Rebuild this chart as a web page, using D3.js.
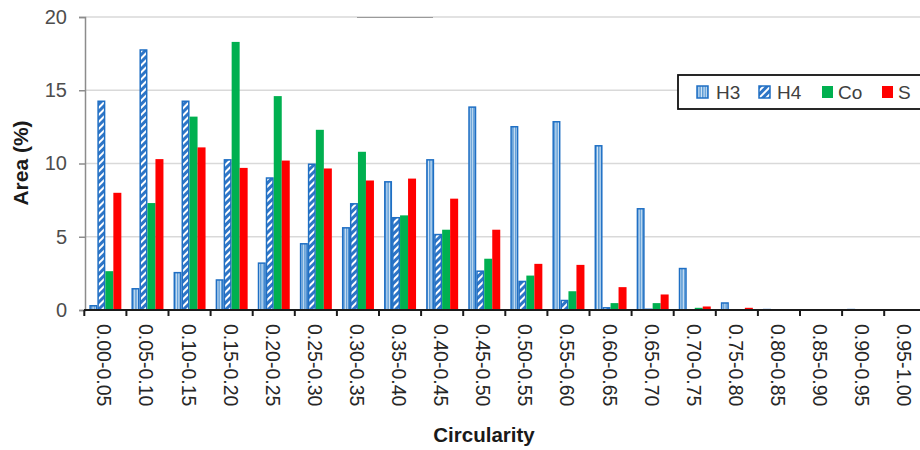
<!DOCTYPE html>
<html><head><meta charset="utf-8">
<script src="https://cdn.jsdelivr.net/npm/d3@7"></script>
<style>body{margin:0;background:#fff}svg{display:block}</style>
</head><body>
<svg id="c" width="920" height="450"></svg>
<script>
const categories = ["0.00-0.05","0.05-0.10","0.10-0.15","0.15-0.20","0.20-0.25","0.25-0.30","0.30-0.35","0.35-0.40","0.40-0.45","0.45-0.50","0.50-0.55","0.55-0.60","0.60-0.65","0.65-0.70","0.70-0.75","0.75-0.80","0.80-0.85","0.85-0.90","0.90-0.95","0.95-1.00"];
const seriesNames = ["H3","H4","Co","S"];
const H3 = [0.34,1.5,2.6,2.1,3.25,4.57,5.66,8.8,10.3,13.9,12.56,12.9,11.26,6.96,2.88,0.53,0.08,0.06,0.08,0];
const H4 = [14.3,17.8,14.3,10.3,9.06,10.0,7.3,6.35,5.2,2.7,2.0,0.7,0.2,0.1,0.05,0.05,0.04,0,0,0];
const Co = [2.65,7.3,13.2,18.3,14.6,12.3,10.8,6.46,5.48,3.5,2.35,1.28,0.47,0.47,0.15,0.02,0,0,0,0];
const S  = [8.0,10.3,11.1,9.7,10.2,9.66,8.84,8.97,7.6,5.48,3.15,3.08,1.56,1.06,0.24,0.15,0,0,0,0];
const yTicks = [0,5,10,15,20];
const seriesValues = [H3,H4,Co,S];

const svg = d3.select("#c");
const defs = svg.append("defs");
// H3 vertical stripes
const p1 = defs.append("pattern").attr("id","pH3").attr("patternUnits","userSpaceOnUse").attr("width",2.6).attr("height",4);
p1.append("rect").attr("width",2.6).attr("height",4).attr("fill","#d6e7f7");
p1.append("rect").attr("width",1.5).attr("height",4).attr("fill","#5b9bd5");
// H4 diagonal stripes
const p2 = defs.append("pattern").attr("id","pH4").attr("patternUnits","userSpaceOnUse").attr("width",5).attr("height",5).attr("patternTransform","rotate(45)");
p2.append("rect").attr("width",5).attr("height",5).attr("fill","#2e75c6");
p2.append("rect").attr("width",2).attr("height",5).attr("fill","#ffffff");

const fills = {H3:"url(#pH3)", H4:"url(#pH4)", Co:"#00b050", S:"#ff0000"};
const strokes = {H3:"#1f6fc4", H4:"#1f6fc4", Co:"none", S:"none"};

const x0 = d3.scaleBand().domain(categories).range([84.3, 926.3]).paddingInner(0.24).paddingOuter(0.12);
const x1 = d3.scaleBand().domain(seriesNames).range([0, x0.bandwidth()]);
const y = d3.scaleLinear().domain([0,20]).range([310, 17]);
const step = x0.step();
const left = x0.range()[0];

// gridlines
svg.append("g").selectAll("line").data(yTicks.filter(t=>t>0)).join("line")
  .attr("x1",85).attr("x2",920).attr("y1",d=>y(d)).attr("y2",d=>y(d))
  .attr("stroke","#d9d9d9").attr("stroke-width",1.5);
// small artifact line at top
svg.append("line").attr("x1",357).attr("x2",433).attr("y1",y(20)+0.5).attr("y2",y(20)+0.5).attr("stroke","#9a9a9a").attr("stroke-width",1);

// bars
const g = svg.append("g");
categories.forEach((c,i)=>{
  seriesNames.forEach((s,k)=>{
    const v = seriesValues[k][i];
    if (v <= 0) return;
    const isPat = (s==="H3"||s==="H4");
    const bx = x0(c) + x1(s), bw = x1.bandwidth();
    g.append("rect")
      .attr("x", isPat ? bx+0.75 : bx).attr("width", isPat ? bw-1.5 : bw)
      .attr("y", y(v) + (isPat?0.75:0)).attr("height", Math.max(0, y(0)-y(v) - (isPat?0.75:0)))
      .attr("fill", fills[s]).attr("stroke", strokes[s]).attr("stroke-width", isPat?1.5:0);
  });
});

// y axis
const ya = svg.append("g").attr("transform","translate(85,0)")
  .call(d3.axisLeft(y).tickValues(yTicks).tickSize(6).tickPadding(12));
ya.select(".domain").attr("stroke","#8c8c8c").attr("stroke-width",1.5);
ya.selectAll(".tick line").attr("stroke","#8c8c8c").attr("stroke-width",1.5);
ya.selectAll(".tick text").attr("font-family","'Liberation Sans', Arial, sans-serif").attr("font-size",20).attr("fill","#4d4d4d");

// x axis
svg.append("line").attr("x1",84).attr("x2",920).attr("y1",310).attr("y2",310).attr("stroke","#1a1a1a").attr("stroke-width",2);
const bounds = d3.range(categories.length+1).map(i=>left+i*step);
svg.append("g").selectAll("line").data(bounds).join("line")
  .attr("x1",d=>d).attr("x2",d=>d).attr("y1",310).attr("y2",316)
  .attr("stroke","#1a1a1a").attr("stroke-width",2);
svg.append("g").selectAll("text").data(categories).join("text")
  .attr("transform",d=>`translate(${x0(d)+x0.bandwidth()/2 - 1},324) rotate(90)`)
  .attr("dominant-baseline","central").attr("text-anchor","start")
  .attr("font-family","'Liberation Sans', Arial, sans-serif").attr("font-size",19.5).attr("fill","#262626")
  .text(d=>d);

// axis titles
svg.append("text").attr("transform","translate(20,163) rotate(-90)")
  .attr("text-anchor","middle").attr("dominant-baseline","central")
  .attr("font-family","'Liberation Sans', Arial, sans-serif").attr("font-weight","bold").attr("font-size",21).attr("fill","#1a1a1a")
  .text("Area (%)");
svg.append("text").attr("x",484).attr("y",442).attr("text-anchor","middle")
  .attr("font-family","'Liberation Sans', Arial, sans-serif").attr("font-weight","bold").attr("font-size",20.5).attr("fill","#1a1a1a")
  .text("Circularity");

// legend
const lg = svg.append("g");
lg.append("rect").attr("x",678).attr("y",75).attr("width",260).attr("height",34).attr("fill","#fff").attr("stroke","#111").attr("stroke-width",1.8);
const legX = {H3:[697,716], H4:[759,777], Co:[822,838], S:[882,898]};
seriesNames.forEach(s=>{
  const isPat = (s==="H3"||s==="H4");
  lg.append("rect").attr("x",legX[s][0]).attr("y",86).attr("width",11).attr("height",12)
    .attr("fill",fills[s]).attr("stroke",strokes[s]).attr("stroke-width",isPat?1.5:0);
  lg.append("text").attr("x",legX[s][1]).attr("y",92).attr("dominant-baseline","central")
    .attr("font-family","'Liberation Sans', Arial, sans-serif").attr("font-size",19).attr("fill","#404040").text(s);
});
</script>
</body></html>
